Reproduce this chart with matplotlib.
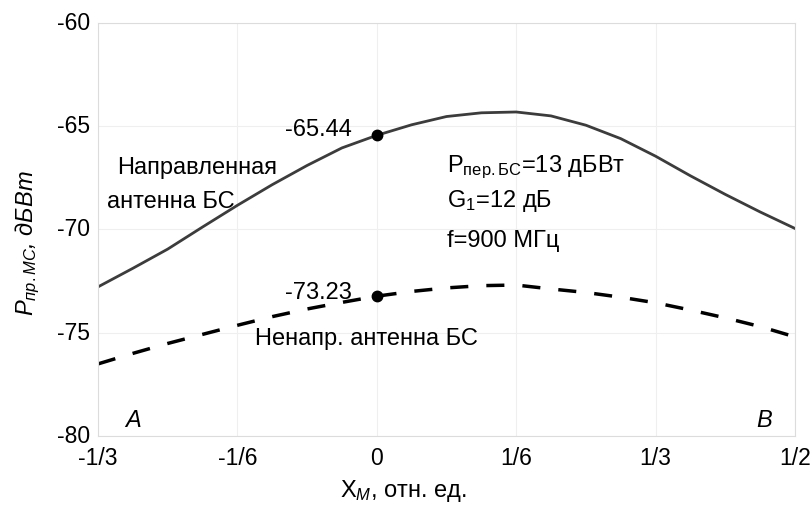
import matplotlib
matplotlib.use("Agg")
import matplotlib.pyplot as plt
import matplotlib.transforms as mtransforms
import numpy as np

plt.rcParams['font.family'] = ['Liberation Sans', 'DejaVu Sans']
plt.rcParams['mathtext.fontset'] = 'custom'
plt.rcParams['mathtext.rm'] = 'Liberation Sans'
plt.rcParams['mathtext.it'] = 'Liberation Sans:italic'
plt.rcParams['axes.unicode_minus'] = False

# x in relative units, step 1/24 from -1/3 to 1/2
xM = np.arange(-8, 13) / 24.0
# directional base station antenna
p_dir = [-72.78, -71.88, -70.95, -69.88, -68.83, -67.83, -66.90, -66.05, -65.44, -64.93,
         -64.53, -64.35, -64.31, -64.50, -64.95, -65.60, -66.45, -67.40, -68.30, -69.15, -69.95]
# omnidirectional base station antenna
p_omni = [-76.51, -76.00, -75.52, -75.08, -74.64, -74.22, -73.85, -73.53, -73.23, -73.00,
          -72.83, -72.72, -72.69, -72.88, -73.05, -73.28, -73.55, -73.90, -74.28, -74.70, -75.20]

xticks = [-1/3, -1/6, 0, 1/6, 1/3, 1/2]
xticklabels = ['-1/3', '-1/6', '0', '1/6', '1/3', '1/2']
yticks = [-80, -75, -70, -65, -60]

fig = plt.figure(figsize=(8.12, 5.06), dpi=100)
ax = fig.add_axes([0.1207, 0.1364, 0.8583, 0.8162])

ax.plot(xM, p_dir, color='#3c3c3c', lw=2.0)
ax.plot(xM, p_omni, color='black', lw=2.5, dashes=(5.2, 5.2))
ax.plot([0], [p_dir[8]], 'o', color='black', ms=7.5)
ax.plot([0], [p_omni[8]], 'o', color='black', ms=7.5)

ax.set_xlim(-1/3, 1/2)
ax.set_ylim(-80, -60)
ax.set_xticks(xticks)
ax.set_xticklabels(xticklabels)
ax.set_yticks(yticks)
ax.tick_params(length=0, labelsize=16.5)
ax.tick_params(axis='x', pad=7)
ax.tick_params(axis='y', pad=6)
ax.grid(True, color='#efefef', lw=0.8)
for s in ax.spines.values():
    s.set_color('#dcdcdc')

# y tick labels sit a little above their grid lines
shift = mtransforms.ScaledTranslation(0, 3 / 100, fig.dpi_scale_trans)
for lab in ax.get_yticklabels():
    lab.set_transform(lab.get_transform() + shift)

fs = 17
ax.text(-0.0297, -65.13, '-65.44', fontsize=fs, ha='right', va='center')
ax.text(-0.0297, -73.05, '-73.23', fontsize=fs, ha='right', va='center')
ax.text(-0.3106, -66.95, 'Направленная', fontsize=fs, ha='left', va='center')
ax.text(-0.3226, -68.6, 'антенна БС', fontsize=fs, ha='left', va='center')
ax.text(-0.1456, -75.25, 'Ненапр. антенна БС', fontsize=fs, ha='left', va='center')
ax.text(0.0839, -66.95, 'P$_{\\mathregular{пер.БС}}$=13 дБВт', fontsize=fs, ha='left', va='center')
ax.text(0.0839, -68.55, 'G$_{\\mathregular{1}}$=12 дБ', fontsize=fs, ha='left', va='center')
ax.text(0.0839, -70.5, 'f=900 МГц', fontsize=fs, ha='left', va='center')
ax.text(-0.2915, -79.18, 'A', fontsize=17, style='italic', ha='center', va='center')
ax.text(0.4629, -79.18, 'B', fontsize=17, style='italic', ha='center', va='center')

ax.set_xlabel('X$_{\\mathit{М}}$, отн. ед.', fontsize=fs)
ax.xaxis.set_label_coords(0.4376, -0.10)
ax.set_ylabel('$P_{пр.МС}$, дБВт', fontsize=fs, style='italic')
ax.yaxis.set_label_coords(-0.081, 0.47)

fig.savefig('out.png', dpi=100)
